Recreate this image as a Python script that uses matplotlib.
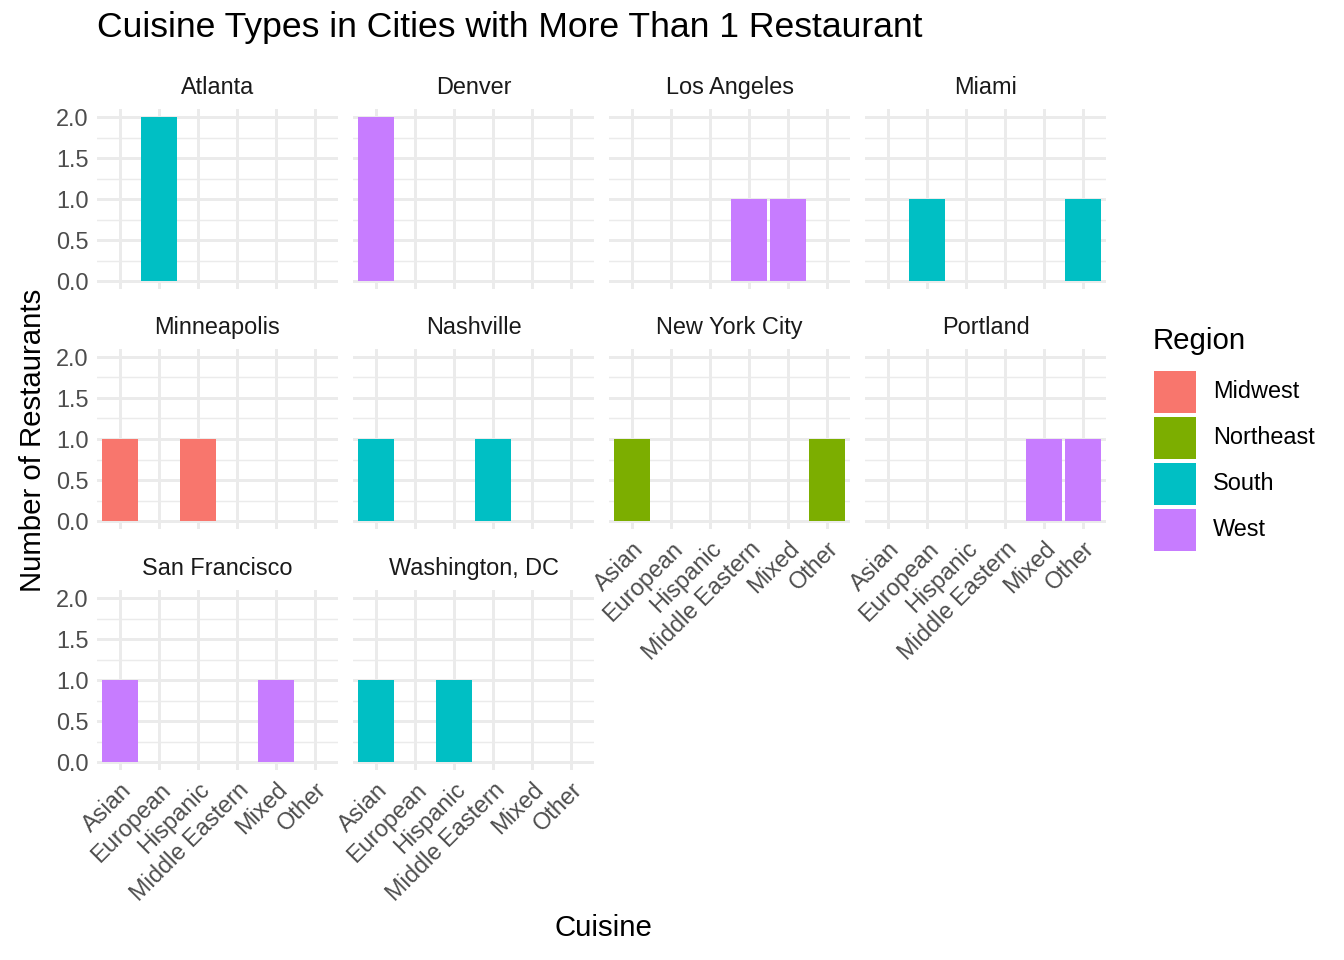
import numpy as np
import matplotlib.pyplot as plt
from matplotlib.patches import Rectangle

plt.rcParams['font.family'] = ['Liberation Sans', 'DejaVu Sans']

# data
cuisines = ['Asian', 'European', 'Hispanic', 'Middle Eastern', 'Mixed', 'Other']
cities = ['Atlanta', 'Denver', 'Los Angeles', 'Miami', 'Minneapolis', 'Nashville',
          'New York City', 'Portland', 'San Francisco', 'Washington, DC']
city_region = ['South', 'West', 'West', 'South', 'Midwest', 'South',
               'Northeast', 'West', 'West', 'South']
counts = [
    [0, 2, 0, 0, 0, 0],  # Atlanta
    [2, 0, 0, 0, 0, 0],  # Denver
    [0, 0, 0, 1, 1, 0],  # Los Angeles
    [0, 1, 0, 0, 0, 1],  # Miami
    [1, 0, 1, 0, 0, 0],  # Minneapolis
    [1, 0, 0, 1, 0, 0],  # Nashville
    [1, 0, 0, 0, 0, 1],  # New York City
    [0, 0, 0, 0, 1, 1],  # Portland
    [1, 0, 0, 0, 1, 0],  # San Francisco
    [1, 0, 1, 0, 0, 0],  # Washington, DC
]
regions = ['Midwest', 'Northeast', 'South', 'West']
region_colors = ['#F8766D', '#7CAE00', '#00BFC4', '#C77CFF']
y_ticks = [0.0, 0.5, 1.0, 1.5, 2.0]

W, H = 1344, 960
fig = plt.figure(figsize=(7, 5), dpi=192)

def px_axes(x0, y0, x1, y1):
    return fig.add_axes([x0 / W, 1 - y1 / H, (x1 - x0) / W, (y1 - y0) / H])

col_left = [96.6, 352.6, 608.6, 864.6]
row_top = [108.8, 348.8, 589.8]
pw, ph = 241.8, 180.4
grid_c = '#EBEBEB'
x = np.arange(len(cuisines))

for i, city in enumerate(cities):
    r, c = divmod(i, 4)
    ax = px_axes(col_left[c], row_top[r], col_left[c] + pw, row_top[r] + ph)
    color = region_colors[regions.index(city_region[i])]
    vals = np.array(counts[i])
    mask = vals > 0
    ax.bar(x[mask], vals[mask], width=0.9, color=color, zorder=3)
    ax.set_xlim(-0.6, 5.6)
    ax.set_ylim(-0.1, 2.1)
    ax.set_yticks(y_ticks)
    ax.set_yticks([0.25, 0.75, 1.25, 1.75], minor=True)
    ax.set_xticks(x)
    ax.grid(True, which='major', color=grid_c, lw=1.1, zorder=0)
    ax.grid(True, which='minor', axis='y', color=grid_c, lw=0.55, zorder=0)
    ax.set_axisbelow(True)
    for s in ax.spines.values():
        s.set_visible(False)
    ax.tick_params(which='both', length=0, labelsize=8.8, labelcolor='#4D4D4D', pad=3)
    if c == 0:
        ax.set_yticklabels([f'{v:.1f}' for v in y_ticks])
    else:
        ax.set_yticklabels([])
    bottom = (r == 2) or (r == 1 and c >= 2)
    if bottom:
        ax.set_xticklabels(cuisines, rotation=45, ha='right', va='top',
                           rotation_mode='anchor')
    else:
        ax.set_xticklabels([])
    ax.text(0.5, 1.0 + 21 / ph, city, transform=ax.transAxes, ha='center',
            va='center', fontsize=8.8, color='#1A1A1A')

fig.text(97 / W, 1 - 28 / H, 'Cuisine Types in Cities with More Than 1 Restaurant',
         fontsize=13.3, va='center', ha='left')
fig.text(603 / W, 1 - 928 / H, 'Cuisine', fontsize=11, ha='center', va='center')
fig.text(33 / W, 1 - 440 / H, 'Number of Restaurants', fontsize=11, rotation=90,
         ha='center', va='center')

# legend drawn by hand to get ggplot-sized keys
fig.text(1153 / W, 1 - 341 / H, 'Region', fontsize=11, ha='left', va='center')
key, step, top = 42, 46, 371
for k, (reg, col) in enumerate(zip(regions, region_colors)):
    y0 = top + k * step
    fig.patches.append(Rectangle((1154 / W, 1 - (y0 + key) / H), key / W, key / H,
                                 transform=fig.transFigure, facecolor=col,
                                 edgecolor='none'))
    fig.text(1213 / W, 1 - (y0 + key / 2) / H, reg, fontsize=8.8,
             ha='left', va='center')

fig.savefig('out.png', dpi=192)
